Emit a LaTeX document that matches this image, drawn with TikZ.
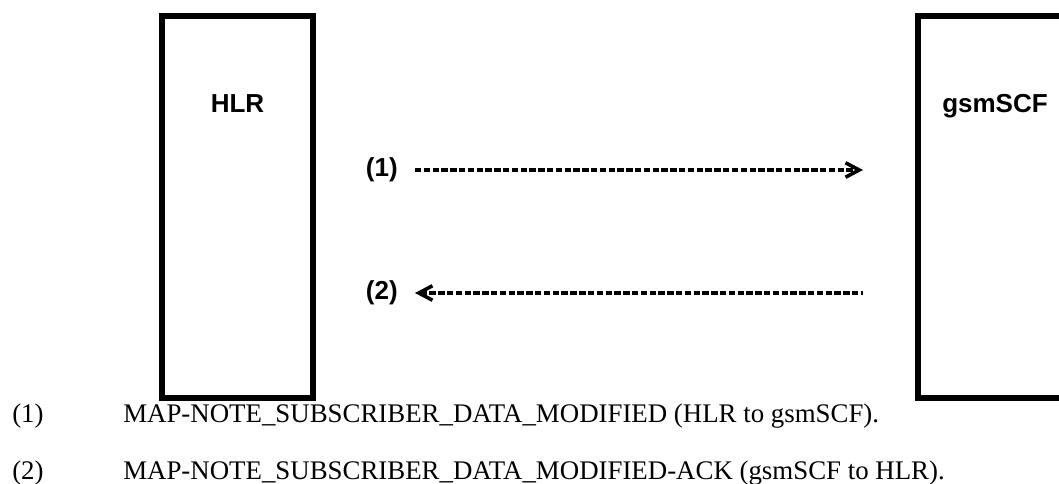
\documentclass[tikz,border=0pt]{standalone}
\usepackage{fontspec}
\setmainfont{Liberation Serif}
\newfontfamily\arialfont{Liberation Sans}
\usetikzlibrary{arrows.meta,positioning}

\begin{document}
\begin{tikzpicture}[x=0.025cm, y=-0.025cm,
  entity/.style={rectangle, draw=black, line width=0.15cm,
                 minimum width=3.775cm, minimum height=9.55cm, inner sep=0pt},
  entlabel/.style={font=\arialfont\fontsize{18.5}{22}\selectfont\bfseries, anchor=base, inner sep=0pt},
  msgnum/.style={font=\arialfont\fontsize{18.5}{22}\selectfont\bfseries, anchor=east, inner sep=0pt},
  msg/.style={line width=0.09cm, dash pattern=on 0.16cm off 0.06cm},
  legend/.style={font=\fontsize{19.1}{22}\selectfont, anchor=base west, inner sep=0pt}
]
\clip (0,0) rectangle (1059,484);

% Entities
\node[entity] (hlr) at (237.5,207) {};
\node[entity] (scf) at (993.5,207) {};
\node[entlabel] (hlrname) at (237.5,113) {HLR};
\node[entlabel] (scfname) at (995,113) {gsmSCF};

% Messages
\node[msgnum] (m1) at (398,170) {(1)};
\node[msgnum] (m2) at (398,293) {(2)};
\coordinate (e1) at (863,170);
\coordinate (e2) at (863,293);
\draw[msg, -{Straight Barb[length=0.34cm, width=0.36cm]}] ([xshift=0.425cm]m1.east) -- (e1);
\draw[msg, {Straight Barb[length=0.34cm, width=0.36cm]}-] ([xshift=0.425cm]m2.east) -- (e2);

% Legend
\node[legend] (l1num) at (12,423) {(1)};
\node[legend] (l1) at (123,423) {MAP-NOTE\_SUBSCRIBER\_DATA\_MODIFIED (HLR to gsmSCF).};
\node[legend] (l2num) at (12,480) {(2)};
\node[legend] (l2) at (123,480) {MAP-NOTE\_SUBSCRIBER\_DATA\_MODIFIED-ACK (gsmSCF to HLR).};
\end{tikzpicture}
\end{document}
